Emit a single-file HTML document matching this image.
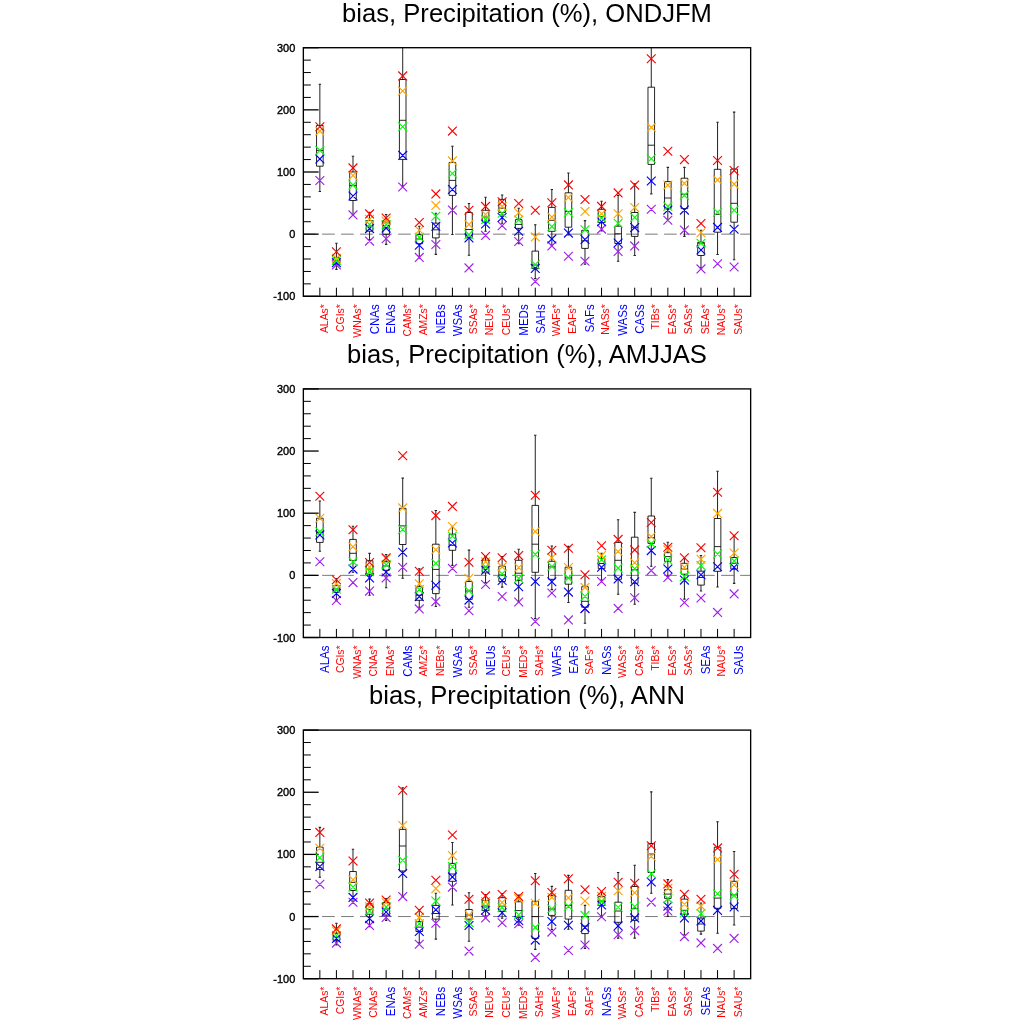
<!DOCTYPE html><html><head><meta charset="utf-8"><title>bias precipitation</title><style>html,body{margin:0;padding:0;background:#fff}svg{display:block}text{font-family:"Liberation Sans",sans-serif}</style></head><body>
<svg width="1024" height="1024" viewBox="0 0 1024 1024">
<defs><filter id="g" filterUnits="userSpaceOnUse" x="0" y="0" width="1024" height="1024"><feOffset dx="0" dy="0"/></filter></defs>
<rect width="1024" height="1024" fill="#fff"/>
<g filter="url(#g)">
<text x="527" y="22" font-size="25.6" text-anchor="middle" fill="#000">bias, Precipitation (%), ONDJFM</text>
<line x1="303.1" y1="234.15" x2="750.65" y2="234.15" stroke="#7a7a7a" stroke-width="1" stroke-dasharray="12.65 6.35"/>
<line x1="303.35" y1="47.7" x2="318.65" y2="47.7" stroke="#000" stroke-width="1.3"/>
<text transform="translate(295.3 51.7) scale(0.93 1)" font-size="11.8" text-anchor="end" fill="#000" stroke="#000" stroke-width="0.4">300</text>
<line x1="303.35" y1="60.13" x2="310.85" y2="60.13" stroke="#000" stroke-width="1"/>
<line x1="303.35" y1="72.56" x2="310.85" y2="72.56" stroke="#000" stroke-width="1"/>
<line x1="303.35" y1="84.99" x2="310.85" y2="84.99" stroke="#000" stroke-width="1"/>
<line x1="303.35" y1="97.42" x2="310.85" y2="97.42" stroke="#000" stroke-width="1"/>
<line x1="303.35" y1="109.85" x2="318.65" y2="109.85" stroke="#000" stroke-width="1.3"/>
<text transform="translate(295.3 113.85) scale(0.93 1)" font-size="11.8" text-anchor="end" fill="#000" stroke="#000" stroke-width="0.4">200</text>
<line x1="303.35" y1="122.28" x2="310.85" y2="122.28" stroke="#000" stroke-width="1"/>
<line x1="303.35" y1="134.71" x2="310.85" y2="134.71" stroke="#000" stroke-width="1"/>
<line x1="303.35" y1="147.14" x2="310.85" y2="147.14" stroke="#000" stroke-width="1"/>
<line x1="303.35" y1="159.57" x2="310.85" y2="159.57" stroke="#000" stroke-width="1"/>
<line x1="303.35" y1="172" x2="318.65" y2="172" stroke="#000" stroke-width="1.3"/>
<text transform="translate(295.3 176) scale(0.93 1)" font-size="11.8" text-anchor="end" fill="#000" stroke="#000" stroke-width="0.4">100</text>
<line x1="303.35" y1="184.43" x2="310.85" y2="184.43" stroke="#000" stroke-width="1"/>
<line x1="303.35" y1="196.86" x2="310.85" y2="196.86" stroke="#000" stroke-width="1"/>
<line x1="303.35" y1="209.29" x2="310.85" y2="209.29" stroke="#000" stroke-width="1"/>
<line x1="303.35" y1="221.72" x2="310.85" y2="221.72" stroke="#000" stroke-width="1"/>
<line x1="303.35" y1="234.15" x2="318.65" y2="234.15" stroke="#000" stroke-width="1.3"/>
<text transform="translate(295.3 238.15) scale(0.93 1)" font-size="11.8" text-anchor="end" fill="#000" stroke="#000" stroke-width="0.4">0</text>
<line x1="303.35" y1="246.58" x2="310.85" y2="246.58" stroke="#000" stroke-width="1"/>
<line x1="303.35" y1="259.01" x2="310.85" y2="259.01" stroke="#000" stroke-width="1"/>
<line x1="303.35" y1="271.44" x2="310.85" y2="271.44" stroke="#000" stroke-width="1"/>
<line x1="303.35" y1="283.87" x2="310.85" y2="283.87" stroke="#000" stroke-width="1"/>
<line x1="303.35" y1="296.3" x2="318.65" y2="296.3" stroke="#000" stroke-width="1.3"/>
<text transform="translate(295.3 300.3) scale(0.93 1)" font-size="11.8" text-anchor="end" fill="#000" stroke="#000" stroke-width="0.4">-100</text>
<line x1="319.85" y1="287.7" x2="319.85" y2="296.3" stroke="#000" stroke-width="1"/>
<path d="M319.85 84.2V125.5M319.85 166.2V191.5" stroke="#222" stroke-width="1" fill="none"/>
<path d="M318.65 84.2H321.05M318.65 191.5H321.05" stroke="#222" stroke-width="1.1" fill="none"/>
<path d="M316.55 125.5H323.15V166.2H316.55ZM316.55 150.4H323.15" stroke="#000" stroke-width="0.85" fill="none"/>
<line x1="336.42" y1="287.7" x2="336.42" y2="296.3" stroke="#000" stroke-width="1"/>
<path d="M336.42 243.3V257.6M336.42 264.6V269.4" stroke="#222" stroke-width="1" fill="none"/>
<path d="M335.22 243.3H337.62M335.22 269.4H337.62" stroke="#222" stroke-width="1.1" fill="none"/>
<path d="M333.12 257.6H339.72V264.6H333.12ZM333.12 260.5H339.72" stroke="#000" stroke-width="0.85" fill="none"/>
<line x1="352.99" y1="287.7" x2="352.99" y2="296.3" stroke="#000" stroke-width="1"/>
<path d="M352.99 156.3V172M352.99 200.5V214.5" stroke="#222" stroke-width="1" fill="none"/>
<path d="M351.79 156.3H354.19M351.79 214.5H354.19" stroke="#222" stroke-width="1.1" fill="none"/>
<path d="M349.69 172H356.29V200.5H349.69ZM349.69 185.4H356.29" stroke="#000" stroke-width="0.85" fill="none"/>
<line x1="369.56" y1="287.7" x2="369.56" y2="296.3" stroke="#000" stroke-width="1"/>
<path d="M369.56 212.3V220.6M369.56 231.2V239.5" stroke="#222" stroke-width="1" fill="none"/>
<path d="M368.36 212.3H370.76M368.36 239.5H370.76" stroke="#222" stroke-width="1.1" fill="none"/>
<path d="M366.26 220.6H372.86V231.2H366.26ZM366.26 226H372.86" stroke="#000" stroke-width="0.85" fill="none"/>
<line x1="386.13" y1="287.7" x2="386.13" y2="296.3" stroke="#000" stroke-width="1"/>
<path d="M386.13 214.5V222M386.13 234.3V244.4" stroke="#222" stroke-width="1" fill="none"/>
<path d="M384.93 214.5H387.33M384.93 244.4H387.33" stroke="#222" stroke-width="1.1" fill="none"/>
<path d="M382.83 222H389.43V234.3H382.83ZM382.83 228H389.43" stroke="#000" stroke-width="0.85" fill="none"/>
<line x1="402.71" y1="287.7" x2="402.71" y2="296.3" stroke="#000" stroke-width="1"/>
<path d="M402.71 47.7V79.5M402.71 159.4V185.9" stroke="#222" stroke-width="1" fill="none"/>
<path d="M401.51 185.9H403.91" stroke="#222" stroke-width="1.1" fill="none"/>
<path d="M399.41 79.5H406.01V159.4H399.41ZM399.41 120.3H406.01" stroke="#000" stroke-width="0.85" fill="none"/>
<line x1="419.28" y1="287.7" x2="419.28" y2="296.3" stroke="#000" stroke-width="1"/>
<path d="M419.28 226.2V234.7M419.28 243.7V256.2" stroke="#222" stroke-width="1" fill="none"/>
<path d="M418.08 226.2H420.48M418.08 256.2H420.48" stroke="#222" stroke-width="1.1" fill="none"/>
<path d="M415.98 234.7H422.58V243.7H415.98ZM415.98 239H422.58" stroke="#000" stroke-width="0.85" fill="none"/>
<line x1="435.85" y1="287.7" x2="435.85" y2="296.3" stroke="#000" stroke-width="1"/>
<path d="M435.85 213.3V223.2M435.85 237.9V254.4" stroke="#222" stroke-width="1" fill="none"/>
<path d="M434.65 213.3H437.05M434.65 254.4H437.05" stroke="#222" stroke-width="1.1" fill="none"/>
<path d="M432.55 223.2H439.15V237.9H432.55ZM432.55 229.8H439.15" stroke="#000" stroke-width="0.85" fill="none"/>
<line x1="452.42" y1="287.7" x2="452.42" y2="296.3" stroke="#000" stroke-width="1"/>
<path d="M452.42 146.2V162.4M452.42 195.4V234.5" stroke="#222" stroke-width="1" fill="none"/>
<path d="M451.22 146.2H453.62M451.22 234.5H453.62" stroke="#222" stroke-width="1.1" fill="none"/>
<path d="M449.12 162.4H455.72V195.4H449.12ZM449.12 180.4H455.72" stroke="#000" stroke-width="0.85" fill="none"/>
<line x1="468.99" y1="287.7" x2="468.99" y2="296.3" stroke="#000" stroke-width="1"/>
<path d="M468.99 203.5V212.5M468.99 237.9V255.2" stroke="#222" stroke-width="1" fill="none"/>
<path d="M467.79 203.5H470.19M467.79 255.2H470.19" stroke="#222" stroke-width="1.1" fill="none"/>
<path d="M465.69 212.5H472.29V237.9H465.69ZM465.69 229.5H472.29" stroke="#000" stroke-width="0.85" fill="none"/>
<line x1="485.56" y1="287.7" x2="485.56" y2="296.3" stroke="#000" stroke-width="1"/>
<path d="M485.56 197.3V210.3M485.56 221.8V231.3" stroke="#222" stroke-width="1" fill="none"/>
<path d="M484.36 197.3H486.76M484.36 231.3H486.76" stroke="#222" stroke-width="1.1" fill="none"/>
<path d="M482.26 210.3H488.86V221.8H482.26ZM482.26 217H488.86" stroke="#000" stroke-width="0.85" fill="none"/>
<line x1="502.13" y1="287.7" x2="502.13" y2="296.3" stroke="#000" stroke-width="1"/>
<path d="M502.13 195V199.4M502.13 212.5V223.2" stroke="#222" stroke-width="1" fill="none"/>
<path d="M500.93 195H503.33M500.93 223.2H503.33" stroke="#222" stroke-width="1.1" fill="none"/>
<path d="M498.83 199.4H505.43V212.5H498.83ZM498.83 208.2H505.43" stroke="#000" stroke-width="0.85" fill="none"/>
<line x1="518.7" y1="287.7" x2="518.7" y2="296.3" stroke="#000" stroke-width="1"/>
<path d="M518.7 208.3V219.6M518.7 228.4V243.7" stroke="#222" stroke-width="1" fill="none"/>
<path d="M517.5 208.3H519.9M517.5 243.7H519.9" stroke="#222" stroke-width="1.1" fill="none"/>
<path d="M515.4 219.6H522V228.4H515.4ZM515.4 224.4H522" stroke="#000" stroke-width="0.85" fill="none"/>
<line x1="535.27" y1="287.7" x2="535.27" y2="296.3" stroke="#000" stroke-width="1"/>
<path d="M535.27 224.7V251.1M535.27 268.6V278.6" stroke="#222" stroke-width="1" fill="none"/>
<path d="M534.07 224.7H536.47M534.07 278.6H536.47" stroke="#222" stroke-width="1.1" fill="none"/>
<path d="M531.97 251.1H538.57V268.6H531.97ZM531.97 265H538.57" stroke="#000" stroke-width="0.85" fill="none"/>
<line x1="551.84" y1="287.7" x2="551.84" y2="296.3" stroke="#000" stroke-width="1"/>
<path d="M551.84 189.5V207.4M551.84 231.3V245.2" stroke="#222" stroke-width="1" fill="none"/>
<path d="M550.64 189.5H553.04M550.64 245.2H553.04" stroke="#222" stroke-width="1.1" fill="none"/>
<path d="M548.54 207.4H555.14V231.3H548.54ZM548.54 220.3H555.14" stroke="#000" stroke-width="0.85" fill="none"/>
<line x1="568.42" y1="287.7" x2="568.42" y2="296.3" stroke="#000" stroke-width="1"/>
<path d="M568.42 173V192.8M568.42 227.2V235" stroke="#222" stroke-width="1" fill="none"/>
<path d="M567.22 173H569.62M567.22 235H569.62" stroke="#222" stroke-width="1.1" fill="none"/>
<path d="M565.12 192.8H571.72V227.2H565.12ZM565.12 211.5H571.72" stroke="#000" stroke-width="0.85" fill="none"/>
<line x1="584.99" y1="287.7" x2="584.99" y2="296.3" stroke="#000" stroke-width="1"/>
<path d="M584.99 220.6V230.3M584.99 248.4V264.3" stroke="#222" stroke-width="1" fill="none"/>
<path d="M583.79 220.6H586.19M583.79 264.3H586.19" stroke="#222" stroke-width="1.1" fill="none"/>
<path d="M581.69 230.3H588.29V248.4H581.69ZM581.69 240.8H588.29" stroke="#000" stroke-width="0.85" fill="none"/>
<line x1="601.56" y1="287.7" x2="601.56" y2="296.3" stroke="#000" stroke-width="1"/>
<path d="M601.56 201.3V209.3M601.56 222.5V231" stroke="#222" stroke-width="1" fill="none"/>
<path d="M600.36 201.3H602.76M600.36 231H602.76" stroke="#222" stroke-width="1.1" fill="none"/>
<path d="M598.26 209.3H604.86V222.5H598.26ZM598.26 216.6H604.86" stroke="#000" stroke-width="0.85" fill="none"/>
<line x1="618.13" y1="287.7" x2="618.13" y2="296.3" stroke="#000" stroke-width="1"/>
<path d="M618.13 195.4V226.2M618.13 243.5V261.3" stroke="#222" stroke-width="1" fill="none"/>
<path d="M616.93 195.4H619.33M616.93 261.3H619.33" stroke="#222" stroke-width="1.1" fill="none"/>
<path d="M614.83 226.2H621.43V243.5H614.83ZM614.83 233.8H621.43" stroke="#000" stroke-width="0.85" fill="none"/>
<line x1="634.7" y1="287.7" x2="634.7" y2="296.3" stroke="#000" stroke-width="1"/>
<path d="M634.7 183.7V212.5M634.7 236.4V255.5" stroke="#222" stroke-width="1" fill="none"/>
<path d="M633.5 183.7H635.9M633.5 255.5H635.9" stroke="#222" stroke-width="1.1" fill="none"/>
<path d="M631.4 212.5H638V236.4H631.4ZM631.4 227.3H638" stroke="#000" stroke-width="0.85" fill="none"/>
<line x1="651.27" y1="287.7" x2="651.27" y2="296.3" stroke="#000" stroke-width="1"/>
<path d="M651.27 47.7V87.2M651.27 164.4V193.9" stroke="#222" stroke-width="1" fill="none"/>
<path d="M650.07 193.9H652.47" stroke="#222" stroke-width="1.1" fill="none"/>
<path d="M647.97 87.2H654.57V164.4H647.97ZM647.97 145.2H654.57" stroke="#000" stroke-width="0.85" fill="none"/>
<line x1="667.84" y1="287.7" x2="667.84" y2="296.3" stroke="#000" stroke-width="1"/>
<path d="M667.84 167.4V181.6M667.84 208.6V220" stroke="#222" stroke-width="1" fill="none"/>
<path d="M666.64 167.4H669.04M666.64 220H669.04" stroke="#222" stroke-width="1.1" fill="none"/>
<path d="M664.54 181.6H671.14V208.6H664.54ZM664.54 198H671.14" stroke="#000" stroke-width="0.85" fill="none"/>
<line x1="684.41" y1="287.7" x2="684.41" y2="296.3" stroke="#000" stroke-width="1"/>
<path d="M684.41 167.4V178.2M684.41 208.6V236.4" stroke="#222" stroke-width="1" fill="none"/>
<path d="M683.21 167.4H685.61M683.21 236.4H685.61" stroke="#222" stroke-width="1.1" fill="none"/>
<path d="M681.11 178.2H687.71V208.6H681.11ZM681.11 194.2H687.71" stroke="#000" stroke-width="0.85" fill="none"/>
<line x1="700.98" y1="287.7" x2="700.98" y2="296.3" stroke="#000" stroke-width="1"/>
<path d="M700.98 230.3V242.3M700.98 255.5V267.9" stroke="#222" stroke-width="1" fill="none"/>
<path d="M699.78 230.3H702.18M699.78 267.9H702.18" stroke="#222" stroke-width="1.1" fill="none"/>
<path d="M697.68 242.3H704.28V255.5H697.68ZM697.68 243.1H704.28" stroke="#000" stroke-width="0.85" fill="none"/>
<line x1="717.55" y1="287.7" x2="717.55" y2="296.3" stroke="#000" stroke-width="1"/>
<path d="M717.55 122.3V169.3M717.55 232.2V254.5" stroke="#222" stroke-width="1" fill="none"/>
<path d="M716.35 122.3H718.75M716.35 254.5H718.75" stroke="#222" stroke-width="1.1" fill="none"/>
<path d="M714.25 169.3H720.85V232.2H714.25ZM714.25 214.4H720.85" stroke="#000" stroke-width="0.85" fill="none"/>
<line x1="734.12" y1="287.7" x2="734.12" y2="296.3" stroke="#000" stroke-width="1"/>
<path d="M734.12 112.1V169.1M734.12 222.2V259.8" stroke="#222" stroke-width="1" fill="none"/>
<path d="M732.92 112.1H735.33M732.92 259.8H735.33" stroke="#222" stroke-width="1.1" fill="none"/>
<path d="M730.83 169.1H737.42V222.2H730.83ZM730.83 203.3H737.42" stroke="#000" stroke-width="0.85" fill="none"/>
<path d="M315.45 176.1L324.25 184.9M315.45 184.9L324.25 176.1M332.02 260.5L340.82 269.3M332.02 269.3L340.82 260.5M348.59 210.5L357.39 219.3M348.59 219.3L357.39 210.5M365.16 236.7L373.96 245.5M365.16 245.5L373.96 236.7M381.73 234.4L390.53 243.2M381.73 243.2L390.53 234.4M398.31 182.6L407.11 191.4M398.31 191.4L407.11 182.6M414.88 253L423.68 261.8M414.88 261.8L423.68 253M431.45 240.1L440.25 248.9M431.45 248.9L440.25 240.1M448.02 205.7L456.82 214.5M448.02 214.5L456.82 205.7M464.59 263.5L473.39 272.3M464.59 272.3L473.39 263.5M481.16 231L489.96 239.8M481.16 239.8L489.96 231M497.73 221.3L506.53 230.1M497.73 230.1L506.53 221.3M514.3 237.1L523.1 245.9M514.3 245.9L523.1 237.1M530.87 277.1L539.67 285.9M530.87 285.9L539.67 277.1M547.44 241.5L556.24 250.3M547.44 250.3L556.24 241.5M564.02 251.8L572.82 260.6M564.02 260.6L572.82 251.8M580.59 256.9L589.39 265.7M580.59 265.7L589.39 256.9M597.16 224.7L605.96 233.5M597.16 233.5L605.96 224.7M613.73 247.1L622.53 255.9M613.73 255.9L622.53 247.1M630.3 241.5L639.1 250.3M630.3 250.3L639.1 241.5M646.87 204.9L655.67 213.7M646.87 213.7L655.67 204.9M663.44 215.9L672.24 224.7M663.44 224.7L672.24 215.9M680.01 225.7L688.81 234.5M680.01 234.5L688.81 225.7M696.58 264.5L705.38 273.3M696.58 273.3L705.38 264.5M713.15 259.4L721.95 268.2M713.15 268.2L721.95 259.4M729.73 262.6L738.52 271.4M729.73 271.4L738.52 262.6" stroke="#a020f0" stroke-width="1.15" fill="none"/>
<path d="M315.45 154.5L324.25 163.3M315.45 163.3L324.25 154.5M332.02 258.4L340.82 267.2M332.02 267.2L340.82 258.4M348.59 191.6L357.39 200.4M348.59 200.4L357.39 191.6M365.16 224.2L373.96 233M365.16 233L373.96 224.2M381.73 223.7L390.53 232.5M381.73 232.5L390.53 223.7M398.31 151L407.11 159.8M398.31 159.8L407.11 151M414.88 240.8L423.68 249.6M414.88 249.6L423.68 240.8M431.45 221.8L440.25 230.6M431.45 230.6L440.25 221.8M448.02 185.1L456.82 193.9M448.02 193.9L456.82 185.1M464.59 233.5L473.39 242.3M464.59 242.3L473.39 233.5M481.16 219.6L489.96 228.4M481.16 228.4L489.96 219.6M497.73 213.1L506.53 221.9M497.73 221.9L506.53 213.1M514.3 226.9L523.1 235.7M514.3 235.7L523.1 226.9M530.87 264L539.67 272.8M530.87 272.8L539.67 264M547.44 234.5L556.24 243.3M547.44 243.3L556.24 234.5M564.02 228.7L572.82 237.5M564.02 237.5L572.82 228.7M580.59 235.1L589.39 243.9M580.59 243.9L589.39 235.1M597.16 217.4L605.96 226.2M597.16 226.2L605.96 217.4M613.73 238.6L622.53 247.4M613.73 247.4L622.53 238.6M630.3 223.2L639.1 232M630.3 232L639.1 223.2M646.87 176.6L655.67 185.4M646.87 185.4L655.67 176.6M663.44 205.7L672.24 214.5M663.44 214.5L672.24 205.7M680.01 205.7L688.81 214.5M680.01 214.5L688.81 205.7M696.58 245.6L705.38 254.4M696.58 254.4L705.38 245.6M713.15 223L721.95 231.8M713.15 231.8L721.95 223M729.73 224.8L738.52 233.6M729.73 233.6L738.52 224.8" stroke="#0000ff" stroke-width="1.15" fill="none"/>
<path d="M315.45 146L324.25 154.8M315.45 154.8L324.25 146M332.02 256.2L340.82 265M332.02 265L340.82 256.2M348.59 180.7L357.39 189.5M348.59 189.5L357.39 180.7M365.16 220.2L373.96 229M365.16 229L373.96 220.2M381.73 220.2L390.53 229M381.73 229L390.53 220.2M398.31 122.3L407.11 131.1M398.31 131.1L407.11 122.3M414.88 232.8L423.68 241.6M414.88 241.6L423.68 232.8M431.45 211.8L440.25 220.6M431.45 220.6L440.25 211.8M448.02 169.1L456.82 177.9M448.02 177.9L456.82 169.1M464.59 230.1L473.39 238.9M464.59 238.9L473.39 230.1M481.16 215.2L489.96 224M481.16 224L489.96 215.2M497.73 208.8L506.53 217.6M497.73 217.6L506.53 208.8M514.3 215.6L523.1 224.4M514.3 224.4L523.1 215.6M530.87 260.1L539.67 268.9M530.87 268.9L539.67 260.1M547.44 222.2L556.24 231M547.44 231L556.24 222.2M564.02 208.1L572.82 216.9M564.02 216.9L572.82 208.1M580.59 225.4L589.39 234.2M580.59 234.2L589.39 225.4M597.16 213.7L605.96 222.5M597.16 222.5L605.96 213.7M613.73 218.8L622.53 227.6M613.73 227.6L622.53 218.8M630.3 213L639.1 221.8M630.3 221.8L639.1 213M646.87 154.3L655.67 163.1M646.87 163.1L655.67 154.3M663.44 202L672.24 210.8M663.44 210.8L672.24 202M680.01 191L688.81 199.8M680.01 199.8L688.81 191M696.58 238.9L705.38 247.7M696.58 247.7L705.38 238.9M713.15 207.9L721.95 216.7M713.15 216.7L721.95 207.9M729.73 205.9L738.52 214.7M729.73 214.7L738.52 205.9" stroke="#00ff00" stroke-width="1.15" fill="none"/>
<path d="M315.45 126.7L324.25 135.5M315.45 135.5L324.25 126.7M332.02 253.8L340.82 262.6M332.02 262.6L340.82 253.8M348.59 171.1L357.39 179.9M348.59 179.9L357.39 171.1M365.16 214.9L373.96 223.7M365.16 223.7L373.96 214.9M381.73 216.7L390.53 225.5M381.73 225.5L390.53 216.7M398.31 86.6L407.11 95.4M398.31 95.4L407.11 86.6M414.88 225.9L423.68 234.7M414.88 234.7L423.68 225.9M431.45 201L440.25 209.8M431.45 209.8L440.25 201M448.02 156.5L456.82 165.3M448.02 165.3L456.82 156.5M464.59 220L473.39 228.8M464.59 228.8L473.39 220M481.16 210.1L489.96 218.9M481.16 218.9L489.96 210.1M497.73 202L506.53 210.8M497.73 210.8L506.53 202M514.3 208.3L523.1 217.1M514.3 217.1L523.1 208.3M530.87 232.5L539.67 241.3M530.87 241.3L539.67 232.5M547.44 212.7L556.24 221.5M547.44 221.5L556.24 212.7M564.02 193.2L572.82 202M564.02 202L572.82 193.2M580.59 207L589.39 215.8M580.59 215.8L589.39 207M597.16 209.3L605.96 218.1M597.16 218.1L605.96 209.3M613.73 209.3L622.53 218.1M613.73 218.1L622.53 209.3M630.3 203.2L639.1 212M630.3 212L639.1 203.2M646.87 123L655.67 131.8M646.87 131.8L655.67 123M663.44 180.7L672.24 189.5M663.44 189.5L672.24 180.7M680.01 179L688.81 187.8M680.01 187.8L688.81 179M696.58 228.4L705.38 237.2M696.58 237.2L705.38 228.4M713.15 175.5L721.95 184.3M713.15 184.3L721.95 175.5M729.73 179.7L738.52 188.5M729.73 188.5L738.52 179.7" stroke="#ffa500" stroke-width="1.15" fill="none"/>
<path d="M315.45 122.3L324.25 131.1M315.45 131.1L324.25 122.3M332.02 247.3L340.82 256.1M332.02 256.1L340.82 247.3M348.59 163.5L357.39 172.3M348.59 172.3L357.39 163.5M365.16 209.5L373.96 218.3M365.16 218.3L373.96 209.5M381.73 213.6L390.53 222.4M381.73 222.4L390.53 213.6M398.31 71.5L407.11 80.3M398.31 80.3L407.11 71.5M414.88 218.1L423.68 226.9M414.88 226.9L423.68 218.1M431.45 189.5L440.25 198.3M431.45 198.3L440.25 189.5M448.02 126.7L456.82 135.5M448.02 135.5L456.82 126.7M464.59 205.9L473.39 214.7M464.59 214.7L473.39 205.9M481.16 202L489.96 210.8M481.16 210.8L489.96 202M497.73 197.3L506.53 206.1M497.73 206.1L506.53 197.3M514.3 199.1L523.1 207.9M514.3 207.9L523.1 199.1M530.87 205.9L539.67 214.7M530.87 214.7L539.67 205.9M547.44 198.3L556.24 207.1M547.44 207.1L556.24 198.3M564.02 180.5L572.82 189.3M564.02 189.3L572.82 180.5M580.59 195.1L589.39 203.9M580.59 203.9L589.39 195.1M597.16 202L605.96 210.8M597.16 210.8L605.96 202M613.73 188.5L622.53 197.3M613.73 197.3L622.53 188.5M630.3 180.7L639.1 189.5M630.3 189.5L639.1 180.7M646.87 54.3L655.67 63.1M646.87 63.1L655.67 54.3M663.44 146.8L672.24 155.6M663.44 155.6L672.24 146.8M680.01 155.2L688.81 164M680.01 164L688.81 155.2M696.58 219.1L705.38 227.9M696.58 227.9L705.38 219.1M713.15 156.1L721.95 164.9M713.15 164.9L721.95 156.1M729.73 166.2L738.52 175M729.73 175L738.52 166.2" stroke="#ff0000" stroke-width="1.15" fill="none"/>
<rect x="303.35" y="47.7" width="447.3" height="248.6" fill="none" stroke="#000" stroke-width="1.35"/>
<text transform="translate(327.75 304.2) rotate(-90) scale(0.92 1)" font-size="11.3" text-anchor="end" fill="#ff0000">ALAs*</text>
<text transform="translate(344.32 304.2) rotate(-90) scale(0.92 1)" font-size="11.3" text-anchor="end" fill="#ff0000">CGIs*</text>
<text transform="translate(360.89 304.2) rotate(-90) scale(0.92 1)" font-size="11.3" text-anchor="end" fill="#ff0000">WNAs*</text>
<text transform="translate(378.86 304.35) rotate(-90) scale(0.92 1)" font-size="12.5" text-anchor="end" fill="#0000ff">CNAs</text>
<text transform="translate(395.43 304.35) rotate(-90) scale(0.92 1)" font-size="12.5" text-anchor="end" fill="#0000ff">ENAs</text>
<text transform="translate(410.61 304.2) rotate(-90) scale(0.92 1)" font-size="11.3" text-anchor="end" fill="#ff0000">CAMs*</text>
<text transform="translate(427.18 304.2) rotate(-90) scale(0.92 1)" font-size="11.3" text-anchor="end" fill="#ff0000">AMZs*</text>
<text transform="translate(445.15 304.35) rotate(-90) scale(0.92 1)" font-size="12.5" text-anchor="end" fill="#0000ff">NEBs</text>
<text transform="translate(461.72 304.35) rotate(-90) scale(0.92 1)" font-size="12.5" text-anchor="end" fill="#0000ff">WSAs</text>
<text transform="translate(476.89 304.2) rotate(-90) scale(0.92 1)" font-size="11.3" text-anchor="end" fill="#ff0000">SSAs*</text>
<text transform="translate(493.46 304.2) rotate(-90) scale(0.92 1)" font-size="11.3" text-anchor="end" fill="#ff0000">NEUs*</text>
<text transform="translate(510.03 304.2) rotate(-90) scale(0.92 1)" font-size="11.3" text-anchor="end" fill="#ff0000">CEUs*</text>
<text transform="translate(528 304.35) rotate(-90) scale(0.92 1)" font-size="12.5" text-anchor="end" fill="#0000ff">MEDs</text>
<text transform="translate(544.57 304.35) rotate(-90) scale(0.92 1)" font-size="12.5" text-anchor="end" fill="#0000ff">SAHs</text>
<text transform="translate(559.74 304.2) rotate(-90) scale(0.92 1)" font-size="11.3" text-anchor="end" fill="#ff0000">WAFs*</text>
<text transform="translate(576.32 304.2) rotate(-90) scale(0.92 1)" font-size="11.3" text-anchor="end" fill="#ff0000">EAFs*</text>
<text transform="translate(594.29 304.35) rotate(-90) scale(0.92 1)" font-size="12.5" text-anchor="end" fill="#0000ff">SAFs</text>
<text transform="translate(609.46 304.2) rotate(-90) scale(0.92 1)" font-size="11.3" text-anchor="end" fill="#ff0000">NASs*</text>
<text transform="translate(627.43 304.35) rotate(-90) scale(0.92 1)" font-size="12.5" text-anchor="end" fill="#0000ff">WASs</text>
<text transform="translate(644 304.35) rotate(-90) scale(0.92 1)" font-size="12.5" text-anchor="end" fill="#0000ff">CASs</text>
<text transform="translate(659.17 304.2) rotate(-90) scale(0.92 1)" font-size="11.3" text-anchor="end" fill="#ff0000">TIBs*</text>
<text transform="translate(675.74 304.2) rotate(-90) scale(0.92 1)" font-size="11.3" text-anchor="end" fill="#ff0000">EASs*</text>
<text transform="translate(692.31 304.2) rotate(-90) scale(0.92 1)" font-size="11.3" text-anchor="end" fill="#ff0000">SASs*</text>
<text transform="translate(708.88 304.2) rotate(-90) scale(0.92 1)" font-size="11.3" text-anchor="end" fill="#ff0000">SEAs*</text>
<text transform="translate(725.45 304.2) rotate(-90) scale(0.92 1)" font-size="11.3" text-anchor="end" fill="#ff0000">NAUs*</text>
<text transform="translate(742.02 304.2) rotate(-90) scale(0.92 1)" font-size="11.3" text-anchor="end" fill="#ff0000">SAUs*</text>
</g>
<g filter="url(#g)">
<text x="527" y="363.2" font-size="25.6" text-anchor="middle" fill="#000">bias, Precipitation (%), AMJJAS</text>
<line x1="303.1" y1="575.35" x2="750.65" y2="575.35" stroke="#7a7a7a" stroke-width="1" stroke-dasharray="12.65 6.35"/>
<line x1="303.35" y1="388.9" x2="318.65" y2="388.9" stroke="#000" stroke-width="1.3"/>
<text transform="translate(295.3 392.9) scale(0.93 1)" font-size="11.8" text-anchor="end" fill="#000" stroke="#000" stroke-width="0.4">300</text>
<line x1="303.35" y1="401.33" x2="310.85" y2="401.33" stroke="#000" stroke-width="1"/>
<line x1="303.35" y1="413.76" x2="310.85" y2="413.76" stroke="#000" stroke-width="1"/>
<line x1="303.35" y1="426.19" x2="310.85" y2="426.19" stroke="#000" stroke-width="1"/>
<line x1="303.35" y1="438.62" x2="310.85" y2="438.62" stroke="#000" stroke-width="1"/>
<line x1="303.35" y1="451.05" x2="318.65" y2="451.05" stroke="#000" stroke-width="1.3"/>
<text transform="translate(295.3 455.05) scale(0.93 1)" font-size="11.8" text-anchor="end" fill="#000" stroke="#000" stroke-width="0.4">200</text>
<line x1="303.35" y1="463.48" x2="310.85" y2="463.48" stroke="#000" stroke-width="1"/>
<line x1="303.35" y1="475.91" x2="310.85" y2="475.91" stroke="#000" stroke-width="1"/>
<line x1="303.35" y1="488.34" x2="310.85" y2="488.34" stroke="#000" stroke-width="1"/>
<line x1="303.35" y1="500.77" x2="310.85" y2="500.77" stroke="#000" stroke-width="1"/>
<line x1="303.35" y1="513.2" x2="318.65" y2="513.2" stroke="#000" stroke-width="1.3"/>
<text transform="translate(295.3 517.2) scale(0.93 1)" font-size="11.8" text-anchor="end" fill="#000" stroke="#000" stroke-width="0.4">100</text>
<line x1="303.35" y1="525.63" x2="310.85" y2="525.63" stroke="#000" stroke-width="1"/>
<line x1="303.35" y1="538.06" x2="310.85" y2="538.06" stroke="#000" stroke-width="1"/>
<line x1="303.35" y1="550.49" x2="310.85" y2="550.49" stroke="#000" stroke-width="1"/>
<line x1="303.35" y1="562.92" x2="310.85" y2="562.92" stroke="#000" stroke-width="1"/>
<line x1="303.35" y1="575.35" x2="318.65" y2="575.35" stroke="#000" stroke-width="1.3"/>
<text transform="translate(295.3 579.35) scale(0.93 1)" font-size="11.8" text-anchor="end" fill="#000" stroke="#000" stroke-width="0.4">0</text>
<line x1="303.35" y1="587.78" x2="310.85" y2="587.78" stroke="#000" stroke-width="1"/>
<line x1="303.35" y1="600.21" x2="310.85" y2="600.21" stroke="#000" stroke-width="1"/>
<line x1="303.35" y1="612.64" x2="310.85" y2="612.64" stroke="#000" stroke-width="1"/>
<line x1="303.35" y1="625.07" x2="310.85" y2="625.07" stroke="#000" stroke-width="1"/>
<line x1="303.35" y1="637.5" x2="318.65" y2="637.5" stroke="#000" stroke-width="1.3"/>
<text transform="translate(295.3 641.5) scale(0.93 1)" font-size="11.8" text-anchor="end" fill="#000" stroke="#000" stroke-width="0.4">-100</text>
<line x1="319.85" y1="628.9" x2="319.85" y2="637.5" stroke="#000" stroke-width="1"/>
<path d="M319.85 501V518.2M319.85 542.4V551.2" stroke="#222" stroke-width="1" fill="none"/>
<path d="M318.65 501H321.05M318.65 551.2H321.05" stroke="#222" stroke-width="1.1" fill="none"/>
<path d="M316.55 518.2H323.15V542.4H316.55ZM316.55 532.2H323.15" stroke="#000" stroke-width="0.85" fill="none"/>
<line x1="336.42" y1="628.9" x2="336.42" y2="637.5" stroke="#000" stroke-width="1"/>
<path d="M336.42 578.5V585.7M336.42 592.3V600.2" stroke="#222" stroke-width="1" fill="none"/>
<path d="M335.22 578.5H337.62M335.22 600.2H337.62" stroke="#222" stroke-width="1.1" fill="none"/>
<path d="M333.12 585.7H339.72V592.3H333.12ZM333.12 589H339.72" stroke="#000" stroke-width="0.85" fill="none"/>
<line x1="352.99" y1="628.9" x2="352.99" y2="637.5" stroke="#000" stroke-width="1"/>
<path d="M352.99 526.3V539.4M352.99 560.6V572.3" stroke="#222" stroke-width="1" fill="none"/>
<path d="M351.79 526.3H354.19M351.79 572.3H354.19" stroke="#222" stroke-width="1.1" fill="none"/>
<path d="M349.69 539.4H356.29V560.6H349.69ZM349.69 553.3H356.29" stroke="#000" stroke-width="0.85" fill="none"/>
<line x1="369.56" y1="628.9" x2="369.56" y2="637.5" stroke="#000" stroke-width="1"/>
<path d="M369.56 553.4V560.6M369.56 574.2V595.2" stroke="#222" stroke-width="1" fill="none"/>
<path d="M368.36 553.4H370.76M368.36 595.2H370.76" stroke="#222" stroke-width="1.1" fill="none"/>
<path d="M366.26 560.6H372.86V574.2H366.26ZM366.26 569H372.86" stroke="#000" stroke-width="0.85" fill="none"/>
<line x1="386.13" y1="628.9" x2="386.13" y2="637.5" stroke="#000" stroke-width="1"/>
<path d="M386.13 554.5V561.8M386.13 570.3V587.8" stroke="#222" stroke-width="1" fill="none"/>
<path d="M384.93 554.5H387.33M384.93 587.8H387.33" stroke="#222" stroke-width="1.1" fill="none"/>
<path d="M382.83 561.8H389.43V570.3H382.83ZM382.83 566H389.43" stroke="#000" stroke-width="0.85" fill="none"/>
<line x1="402.71" y1="628.9" x2="402.71" y2="637.5" stroke="#000" stroke-width="1"/>
<path d="M402.71 478.1V508.3M402.71 544.5V578.3" stroke="#222" stroke-width="1" fill="none"/>
<path d="M401.51 478.1H403.91M401.51 578.3H403.91" stroke="#222" stroke-width="1.1" fill="none"/>
<path d="M399.41 508.3H406.01V544.5H399.41ZM399.41 525.9H406.01" stroke="#000" stroke-width="0.85" fill="none"/>
<line x1="419.28" y1="628.9" x2="419.28" y2="637.5" stroke="#000" stroke-width="1"/>
<path d="M419.28 568.7V586.7M419.28 600.3V607.2" stroke="#222" stroke-width="1" fill="none"/>
<path d="M418.08 568.7H420.48M418.08 607.2H420.48" stroke="#222" stroke-width="1.1" fill="none"/>
<path d="M415.98 586.7H422.58V600.3H415.98ZM415.98 595.2H422.58" stroke="#000" stroke-width="0.85" fill="none"/>
<line x1="435.85" y1="628.9" x2="435.85" y2="637.5" stroke="#000" stroke-width="1"/>
<path d="M435.85 510.5V544.2M435.85 593.6V606.5" stroke="#222" stroke-width="1" fill="none"/>
<path d="M434.65 510.5H437.05M434.65 606.5H437.05" stroke="#222" stroke-width="1.1" fill="none"/>
<path d="M432.55 544.2H439.15V593.6H432.55ZM432.55 569.4H439.15" stroke="#000" stroke-width="0.85" fill="none"/>
<line x1="452.42" y1="628.9" x2="452.42" y2="637.5" stroke="#000" stroke-width="1"/>
<path d="M452.42 527.4V534.2M452.42 550.3V565.4" stroke="#222" stroke-width="1" fill="none"/>
<path d="M451.22 527.4H453.62M451.22 565.4H453.62" stroke="#222" stroke-width="1.1" fill="none"/>
<path d="M449.12 534.2H455.72V550.3H449.12ZM449.12 545.3H455.72" stroke="#000" stroke-width="0.85" fill="none"/>
<line x1="468.99" y1="628.9" x2="468.99" y2="637.5" stroke="#000" stroke-width="1"/>
<path d="M468.99 550.1V581.5M468.99 599.4V607.2" stroke="#222" stroke-width="1" fill="none"/>
<path d="M467.79 550.1H470.19M467.79 607.2H470.19" stroke="#222" stroke-width="1.1" fill="none"/>
<path d="M465.69 581.5H472.29V599.4H465.69ZM465.69 591H472.29" stroke="#000" stroke-width="0.85" fill="none"/>
<line x1="485.56" y1="628.9" x2="485.56" y2="637.5" stroke="#000" stroke-width="1"/>
<path d="M485.56 556.6V560.3M485.56 572.8V582.6" stroke="#222" stroke-width="1" fill="none"/>
<path d="M484.36 556.6H486.76M484.36 582.6H486.76" stroke="#222" stroke-width="1.1" fill="none"/>
<path d="M482.26 560.3H488.86V572.8H482.26ZM482.26 567H488.86" stroke="#000" stroke-width="0.85" fill="none"/>
<line x1="502.13" y1="628.9" x2="502.13" y2="637.5" stroke="#000" stroke-width="1"/>
<path d="M502.13 556.6V566.2M502.13 581.5V587.1" stroke="#222" stroke-width="1" fill="none"/>
<path d="M500.93 556.6H503.33M500.93 587.1H503.33" stroke="#222" stroke-width="1.1" fill="none"/>
<path d="M498.83 566.2H505.43V581.5H498.83ZM498.83 575H505.43" stroke="#000" stroke-width="0.85" fill="none"/>
<line x1="518.7" y1="628.9" x2="518.7" y2="637.5" stroke="#000" stroke-width="1"/>
<path d="M518.7 549.3V560.3M518.7 580.5V602" stroke="#222" stroke-width="1" fill="none"/>
<path d="M517.5 549.3H519.9M517.5 602H519.9" stroke="#222" stroke-width="1.1" fill="none"/>
<path d="M515.4 560.3H522V580.5H515.4ZM515.4 573.2H522" stroke="#000" stroke-width="0.85" fill="none"/>
<line x1="535.27" y1="628.9" x2="535.27" y2="637.5" stroke="#000" stroke-width="1"/>
<path d="M535.27 435.2V505.4M535.27 572.3V618.6" stroke="#222" stroke-width="1" fill="none"/>
<path d="M534.07 435.2H536.47M534.07 618.6H536.47" stroke="#222" stroke-width="1.1" fill="none"/>
<path d="M531.97 505.4H538.57V572.3H531.97ZM531.97 544.2H538.57" stroke="#000" stroke-width="0.85" fill="none"/>
<line x1="551.84" y1="628.9" x2="551.84" y2="637.5" stroke="#000" stroke-width="1"/>
<path d="M551.84 546V561.3M551.84 579.3V589.6" stroke="#222" stroke-width="1" fill="none"/>
<path d="M550.64 546H553.04M550.64 589.6H553.04" stroke="#222" stroke-width="1.1" fill="none"/>
<path d="M548.54 561.3H555.14V579.3H548.54ZM548.54 566.9H555.14" stroke="#000" stroke-width="0.85" fill="none"/>
<line x1="568.42" y1="628.9" x2="568.42" y2="637.5" stroke="#000" stroke-width="1"/>
<path d="M568.42 546.4V567.2M568.42 584.2V602.5" stroke="#222" stroke-width="1" fill="none"/>
<path d="M567.22 546.4H569.62M567.22 602.5H569.62" stroke="#222" stroke-width="1.1" fill="none"/>
<path d="M565.12 567.2H571.72V584.2H565.12ZM565.12 577.9H571.72" stroke="#000" stroke-width="0.85" fill="none"/>
<line x1="584.99" y1="628.9" x2="584.99" y2="637.5" stroke="#000" stroke-width="1"/>
<path d="M584.99 574.2V586.7M584.99 607.2V623.3" stroke="#222" stroke-width="1" fill="none"/>
<path d="M583.79 574.2H586.19M583.79 623.3H586.19" stroke="#222" stroke-width="1.1" fill="none"/>
<path d="M581.69 586.7H588.29V607.2H581.69ZM581.69 601.3H588.29" stroke="#000" stroke-width="0.85" fill="none"/>
<line x1="601.56" y1="628.9" x2="601.56" y2="637.5" stroke="#000" stroke-width="1"/>
<path d="M601.56 553.3V558.4M601.56 568.7V580.1" stroke="#222" stroke-width="1" fill="none"/>
<path d="M600.36 553.3H602.76M600.36 580.1H602.76" stroke="#222" stroke-width="1.1" fill="none"/>
<path d="M598.26 558.4H604.86V568.7H598.26ZM598.26 563.5H604.86" stroke="#000" stroke-width="0.85" fill="none"/>
<line x1="618.13" y1="628.9" x2="618.13" y2="637.5" stroke="#000" stroke-width="1"/>
<path d="M618.13 519.7V542.4M618.13 579.4V594.3" stroke="#222" stroke-width="1" fill="none"/>
<path d="M616.93 519.7H619.33M616.93 594.3H619.33" stroke="#222" stroke-width="1.1" fill="none"/>
<path d="M614.83 542.4H621.43V579.4H614.83ZM614.83 560.3H621.43" stroke="#000" stroke-width="0.85" fill="none"/>
<line x1="634.7" y1="628.9" x2="634.7" y2="637.5" stroke="#000" stroke-width="1"/>
<path d="M634.7 512.4V537.2M634.7 583.3V604.3" stroke="#222" stroke-width="1" fill="none"/>
<path d="M633.5 512.4H635.9M633.5 604.3H635.9" stroke="#222" stroke-width="1.1" fill="none"/>
<path d="M631.4 537.2H638V583.3H631.4ZM631.4 569.8H638" stroke="#000" stroke-width="0.85" fill="none"/>
<line x1="651.27" y1="628.9" x2="651.27" y2="637.5" stroke="#000" stroke-width="1"/>
<path d="M651.27 478.3V516M651.27 543.4V566.3" stroke="#222" stroke-width="1" fill="none"/>
<path d="M650.07 478.3H652.47M650.07 566.3H652.47" stroke="#222" stroke-width="1.1" fill="none"/>
<path d="M647.97 516H654.57V543.4H647.97ZM647.97 537.6H654.57" stroke="#000" stroke-width="0.85" fill="none"/>
<line x1="667.84" y1="628.9" x2="667.84" y2="637.5" stroke="#000" stroke-width="1"/>
<path d="M667.84 542.3V552.7M667.84 561.4V576.4" stroke="#222" stroke-width="1" fill="none"/>
<path d="M666.64 542.3H669.04M666.64 576.4H669.04" stroke="#222" stroke-width="1.1" fill="none"/>
<path d="M664.54 552.7H671.14V561.4H664.54ZM664.54 556.6H671.14" stroke="#000" stroke-width="0.85" fill="none"/>
<line x1="684.41" y1="628.9" x2="684.41" y2="637.5" stroke="#000" stroke-width="1"/>
<path d="M684.41 558.5V563.3M684.41 574.2V599.1" stroke="#222" stroke-width="1" fill="none"/>
<path d="M683.21 558.5H685.61M683.21 599.1H685.61" stroke="#222" stroke-width="1.1" fill="none"/>
<path d="M681.11 563.3H687.71V574.2H681.11ZM681.11 569H687.71" stroke="#000" stroke-width="0.85" fill="none"/>
<line x1="700.98" y1="628.9" x2="700.98" y2="637.5" stroke="#000" stroke-width="1"/>
<path d="M700.98 555.5V571.2M700.98 585.1V591" stroke="#222" stroke-width="1" fill="none"/>
<path d="M699.78 555.5H702.18M699.78 591H702.18" stroke="#222" stroke-width="1.1" fill="none"/>
<path d="M697.68 571.2H704.28V585.1H697.68ZM697.68 577.5H704.28" stroke="#000" stroke-width="0.85" fill="none"/>
<line x1="717.55" y1="628.9" x2="717.55" y2="637.5" stroke="#000" stroke-width="1"/>
<path d="M717.55 471.3V518.5M717.55 571.3V587" stroke="#222" stroke-width="1" fill="none"/>
<path d="M716.35 471.3H718.75M716.35 587H718.75" stroke="#222" stroke-width="1.1" fill="none"/>
<path d="M714.25 518.5H720.85V571.3H714.25ZM714.25 546.6H720.85" stroke="#000" stroke-width="0.85" fill="none"/>
<line x1="734.12" y1="628.9" x2="734.12" y2="637.5" stroke="#000" stroke-width="1"/>
<path d="M734.12 535.9V557.5M734.12 569.2V583.4" stroke="#222" stroke-width="1" fill="none"/>
<path d="M732.92 535.9H735.33M732.92 583.4H735.33" stroke="#222" stroke-width="1.1" fill="none"/>
<path d="M730.83 557.5H737.42V569.2H730.83ZM730.83 563.3H737.42" stroke="#000" stroke-width="0.85" fill="none"/>
<path d="M315.45 557.4L324.25 566.2M315.45 566.2L324.25 557.4M332.02 596.1L340.82 604.9M332.02 604.9L340.82 596.1M348.59 578.2L357.39 587M348.59 587L357.39 578.2M365.16 586.7L373.96 595.5M365.16 595.5L373.96 586.7M381.73 573.5L390.53 582.3M381.73 582.3L390.53 573.5M398.31 562.8L407.11 571.6M398.31 571.6L407.11 562.8M414.88 604.5L423.68 613.3M414.88 613.3L423.68 604.5M431.45 597.2L440.25 606M431.45 606L440.25 597.2M448.02 564L456.82 572.8M448.02 572.8L456.82 564M464.59 606.4L473.39 615.2M464.59 615.2L473.39 606.4M481.16 580.1L489.96 588.9M481.16 588.9L489.96 580.1M497.73 592.1L506.53 600.9M497.73 600.9L506.53 592.1M514.3 597.6L523.1 606.4M514.3 606.4L523.1 597.6M530.87 617.1L539.67 625.9M530.87 625.9L539.67 617.1M547.44 588.6L556.24 597.4M547.44 597.4L556.24 588.6M564.02 615.5L572.82 624.3M564.02 624.3L572.82 615.5M580.59 604.4L589.39 613.2M580.59 613.2L589.39 604.4M597.16 577.1L605.96 585.9M597.16 585.9L605.96 577.1M613.73 604L622.53 612.8M613.73 612.8L622.53 604M630.3 593.3L639.1 602.1M630.3 602.1L639.1 593.3M646.87 566.2L655.67 575M646.87 575L655.67 566.2M663.44 573L672.24 581.8M663.44 581.8L672.24 573M680.01 598.1L688.81 606.9M680.01 606.9L688.81 598.1M696.58 593.6L705.38 602.4M696.58 602.4L705.38 593.6M713.15 608L721.95 616.8M713.15 616.8L721.95 608M729.73 589.5L738.52 598.3M729.73 598.3L738.52 589.5" stroke="#a020f0" stroke-width="1.15" fill="none"/>
<path d="M315.45 530.5L324.25 539.3M315.45 539.3L324.25 530.5M332.02 589L340.82 597.8M332.02 597.8L340.82 589M348.59 564.7L357.39 573.5M348.59 573.5L357.39 564.7M365.16 573.5L373.96 582.3M365.16 582.3L373.96 573.5M381.73 567.6L390.53 576.4M381.73 576.4L390.53 567.6M398.31 547.9L407.11 556.7M398.31 556.7L407.11 547.9M414.88 592.2L423.68 601M414.88 601L423.68 592.2M431.45 580.8L440.25 589.6M431.45 589.6L440.25 580.8M448.02 538.6L456.82 547.4M448.02 547.4L456.82 538.6M464.59 595.7L473.39 604.5M464.59 604.5L473.39 595.7M481.16 565.9L489.96 574.7M481.16 574.7L489.96 565.9M497.73 576.1L506.53 584.9M497.73 584.9L506.53 576.1M514.3 582.3L523.1 591.1M514.3 591.1L523.1 582.3M530.87 577.1L539.67 585.9M530.87 585.9L539.67 577.1M547.44 577.4L556.24 586.2M547.44 586.2L556.24 577.4M564.02 587.7L572.82 596.5M564.02 596.5L572.82 587.7M580.59 604L589.39 612.8M580.59 612.8L589.39 604M597.16 562.8L605.96 571.6M597.16 571.6L605.96 562.8M613.73 574.5L622.53 583.3M613.73 583.3L622.53 574.5M630.3 577.4L639.1 586.2M630.3 586.2L639.1 577.4M646.87 546.2L655.67 555M646.87 555L655.67 546.2M663.44 564.6L672.24 573.4M663.44 573.4L672.24 564.6M680.01 575.7L688.81 584.5M680.01 584.5L688.81 575.7M696.58 570.4L705.38 579.2M696.58 579.2L705.38 570.4M713.15 562.4L721.95 571.2M713.15 571.2L721.95 562.4M729.73 562.9L738.52 571.7M729.73 571.7L738.52 562.9" stroke="#0000ff" stroke-width="1.15" fill="none"/>
<path d="M315.45 527.4L324.25 536.2M315.45 536.2L324.25 527.4M332.02 584.8L340.82 593.6M332.02 593.6L340.82 584.8M348.59 557.4L357.39 566.2M348.59 566.2L357.39 557.4M365.16 567.2L373.96 576M365.16 576L373.96 567.2M381.73 560.3L390.53 569.1M381.73 569.1L390.53 560.3M398.31 525.1L407.11 533.9M398.31 533.9L407.11 525.1M414.88 585.2L423.68 594M414.88 594L423.68 585.2M431.45 558.8L440.25 567.6M431.45 567.6L440.25 558.8M448.02 531.7L456.82 540.5M448.02 540.5L456.82 531.7M464.59 586.4L473.39 595.2M464.59 595.2L473.39 586.4M481.16 562.5L489.96 571.3M481.16 571.3L489.96 562.5M497.73 569.4L506.53 578.2M497.73 578.2L506.53 569.4M514.3 573.9L523.1 582.7M514.3 582.7L523.1 573.9M530.87 550L539.67 558.8M530.87 558.8L539.67 550M547.44 562.1L556.24 570.9M547.44 570.9L556.24 562.1M564.02 573.5L572.82 582.3M564.02 582.3L572.82 573.5M580.59 591.8L589.39 600.6M580.59 600.6L589.39 591.8M597.16 555.5L605.96 564.3M597.16 564.3L605.96 555.5M613.73 563.7L622.53 572.5M613.73 572.5L622.53 563.7M630.3 564.3L639.1 573.1M630.3 573.1L639.1 564.3M646.87 539.1L655.67 547.9M646.87 547.9L655.67 539.1M663.44 555.6L672.24 564.4M663.44 564.4L672.24 555.6M680.01 572L688.81 580.8M680.01 580.8L688.81 572M696.58 561.2L705.38 570M696.58 570L705.38 561.2M713.15 549.7L721.95 558.5M713.15 558.5L721.95 549.7M729.73 556.5L738.52 565.3M729.73 565.3L738.52 556.5" stroke="#00ff00" stroke-width="1.15" fill="none"/>
<path d="M315.45 513.8L324.25 522.6M315.45 522.6L324.25 513.8M332.02 579.2L340.82 588M332.02 588L340.82 579.2M348.59 542.3L357.39 551.1M348.59 551.1L357.39 542.3M365.16 562.5L373.96 571.3M365.16 571.3L373.96 562.5M381.73 554.4L390.53 563.2M381.73 563.2L390.53 554.4M398.31 503.5L407.11 512.3M398.31 512.3L407.11 503.5M414.88 579.3L423.68 588.1M414.88 588.1L423.68 579.3M431.45 545.4L440.25 554.2M431.45 554.2L440.25 545.4M448.02 522.2L456.82 531M448.02 531L456.82 522.2M464.59 573.9L473.39 582.7M464.59 582.7L473.39 573.9M481.16 557.4L489.96 566.2M481.16 566.2L489.96 557.4M497.73 562.5L506.53 571.3M497.73 571.3L506.53 562.5M514.3 563.2L523.1 572M514.3 572L523.1 563.2M530.87 527.1L539.67 535.9M530.87 535.9L539.67 527.1M547.44 553.3L556.24 562.1M547.44 562.1L556.24 553.3M564.02 563.2L572.82 572M564.02 572L572.82 563.2M580.59 583L589.39 591.8M580.59 591.8L589.39 583M597.16 551.2L605.96 560M597.16 560L605.96 551.2M613.73 547.1L622.53 555.9M613.73 555.9L622.53 547.1M630.3 558.4L639.1 567.2M630.3 567.2L639.1 558.4M646.87 532.1L655.67 540.9M646.87 540.9L655.67 532.1M663.44 545.5L672.24 554.3M663.44 554.3L672.24 545.5M680.01 562.8L688.81 571.6M680.01 571.6L688.81 562.8M696.58 554.9L705.38 563.7M696.58 563.7L705.38 554.9M713.15 509L721.95 517.8M713.15 517.8L721.95 509M729.73 548.6L738.52 557.4M729.73 557.4L738.52 548.6" stroke="#ffa500" stroke-width="1.15" fill="none"/>
<path d="M315.45 491.8L324.25 500.6M315.45 500.6L324.25 491.8M332.02 575.3L340.82 584.1M332.02 584.1L340.82 575.3M348.59 525.4L357.39 534.2M348.59 534.2L357.39 525.4M365.16 558.1L373.96 566.9M365.16 566.9L373.96 558.1M381.73 553.3L390.53 562.1M381.73 562.1L390.53 553.3M398.31 451.3L407.11 460.1M398.31 460.1L407.11 451.3M414.88 566.9L423.68 575.7M414.88 575.7L423.68 566.9M431.45 511.2L440.25 520M431.45 520L440.25 511.2M448.02 502L456.82 510.8M448.02 510.8L456.82 502M464.59 557.8L473.39 566.6M464.59 566.6L473.39 557.8M481.16 552.2L489.96 561M481.16 561L489.96 552.2M497.73 553.4L506.53 562.2M497.73 562.2L506.53 553.4M514.3 551.2L523.1 560M514.3 560L523.1 551.2M530.87 490.8L539.67 499.6M530.87 499.6L539.67 490.8M547.44 545.9L556.24 554.7M547.44 554.7L556.24 545.9M564.02 543.9L572.82 552.7M564.02 552.7L572.82 543.9M580.59 570.3L589.39 579.1M580.59 579.1L589.39 570.3M597.16 541.3L605.96 550.1M597.16 550.1L605.96 541.3M613.73 535L622.53 543.8M613.73 543.8L622.53 535M630.3 545.5L639.1 554.3M630.3 554.3L639.1 545.5M646.87 518.1L655.67 526.9M646.87 526.9L655.67 518.1M663.44 542.8L672.24 551.6M663.44 551.6L672.24 542.8M680.01 553.3L688.81 562.1M680.01 562.1L688.81 553.3M696.58 543.4L705.38 552.2M696.58 552.2L705.38 543.4M713.15 487.8L721.95 496.6M713.15 496.6L721.95 487.8M729.73 531.4L738.52 540.2M729.73 540.2L738.52 531.4" stroke="#ff0000" stroke-width="1.15" fill="none"/>
<rect x="303.35" y="388.9" width="447.3" height="248.6" fill="none" stroke="#000" stroke-width="1.35"/>
<text transform="translate(329.15 645.55) rotate(-90) scale(0.92 1)" font-size="12.5" text-anchor="end" fill="#0000ff">ALAs</text>
<text transform="translate(344.32 645.4) rotate(-90) scale(0.92 1)" font-size="11.3" text-anchor="end" fill="#ff0000">CGIs*</text>
<text transform="translate(360.89 645.4) rotate(-90) scale(0.92 1)" font-size="11.3" text-anchor="end" fill="#ff0000">WNAs*</text>
<text transform="translate(377.46 645.4) rotate(-90) scale(0.92 1)" font-size="11.3" text-anchor="end" fill="#ff0000">CNAs*</text>
<text transform="translate(394.03 645.4) rotate(-90) scale(0.92 1)" font-size="11.3" text-anchor="end" fill="#ff0000">ENAs*</text>
<text transform="translate(412.01 645.55) rotate(-90) scale(0.92 1)" font-size="12.5" text-anchor="end" fill="#0000ff">CAMs</text>
<text transform="translate(427.18 645.4) rotate(-90) scale(0.92 1)" font-size="11.3" text-anchor="end" fill="#ff0000">AMZs*</text>
<text transform="translate(443.75 645.4) rotate(-90) scale(0.92 1)" font-size="11.3" text-anchor="end" fill="#ff0000">NEBs*</text>
<text transform="translate(461.72 645.55) rotate(-90) scale(0.92 1)" font-size="12.5" text-anchor="end" fill="#0000ff">WSAs</text>
<text transform="translate(476.89 645.4) rotate(-90) scale(0.92 1)" font-size="11.3" text-anchor="end" fill="#ff0000">SSAs*</text>
<text transform="translate(494.86 645.55) rotate(-90) scale(0.92 1)" font-size="12.5" text-anchor="end" fill="#0000ff">NEUs</text>
<text transform="translate(510.03 645.4) rotate(-90) scale(0.92 1)" font-size="11.3" text-anchor="end" fill="#ff0000">CEUs*</text>
<text transform="translate(526.6 645.4) rotate(-90) scale(0.92 1)" font-size="11.3" text-anchor="end" fill="#ff0000">MEDs*</text>
<text transform="translate(543.17 645.4) rotate(-90) scale(0.92 1)" font-size="11.3" text-anchor="end" fill="#ff0000">SAHs*</text>
<text transform="translate(561.14 645.55) rotate(-90) scale(0.92 1)" font-size="12.5" text-anchor="end" fill="#0000ff">WAFs</text>
<text transform="translate(577.72 645.55) rotate(-90) scale(0.92 1)" font-size="12.5" text-anchor="end" fill="#0000ff">EAFs</text>
<text transform="translate(592.89 645.4) rotate(-90) scale(0.92 1)" font-size="11.3" text-anchor="end" fill="#ff0000">SAFs*</text>
<text transform="translate(610.86 645.55) rotate(-90) scale(0.92 1)" font-size="12.5" text-anchor="end" fill="#0000ff">NASs</text>
<text transform="translate(626.03 645.4) rotate(-90) scale(0.92 1)" font-size="11.3" text-anchor="end" fill="#ff0000">WASs*</text>
<text transform="translate(642.6 645.4) rotate(-90) scale(0.92 1)" font-size="11.3" text-anchor="end" fill="#ff0000">CASs*</text>
<text transform="translate(659.17 645.4) rotate(-90) scale(0.92 1)" font-size="11.3" text-anchor="end" fill="#ff0000">TIBs*</text>
<text transform="translate(675.74 645.4) rotate(-90) scale(0.92 1)" font-size="11.3" text-anchor="end" fill="#ff0000">EASs*</text>
<text transform="translate(692.31 645.4) rotate(-90) scale(0.92 1)" font-size="11.3" text-anchor="end" fill="#ff0000">SASs*</text>
<text transform="translate(710.28 645.55) rotate(-90) scale(0.92 1)" font-size="12.5" text-anchor="end" fill="#0000ff">SEAs</text>
<text transform="translate(725.45 645.4) rotate(-90) scale(0.92 1)" font-size="11.3" text-anchor="end" fill="#ff0000">NAUs*</text>
<text transform="translate(743.42 645.55) rotate(-90) scale(0.92 1)" font-size="12.5" text-anchor="end" fill="#0000ff">SAUs</text>
</g>
<g filter="url(#g)">
<text x="527" y="704.4" font-size="25.6" text-anchor="middle" fill="#000">bias, Precipitation (%), ANN</text>
<line x1="303.1" y1="916.55" x2="750.65" y2="916.55" stroke="#7a7a7a" stroke-width="1" stroke-dasharray="12.65 6.35"/>
<line x1="303.35" y1="730.1" x2="318.65" y2="730.1" stroke="#000" stroke-width="1.3"/>
<text transform="translate(295.3 734.1) scale(0.93 1)" font-size="11.8" text-anchor="end" fill="#000" stroke="#000" stroke-width="0.4">300</text>
<line x1="303.35" y1="742.53" x2="310.85" y2="742.53" stroke="#000" stroke-width="1"/>
<line x1="303.35" y1="754.96" x2="310.85" y2="754.96" stroke="#000" stroke-width="1"/>
<line x1="303.35" y1="767.39" x2="310.85" y2="767.39" stroke="#000" stroke-width="1"/>
<line x1="303.35" y1="779.82" x2="310.85" y2="779.82" stroke="#000" stroke-width="1"/>
<line x1="303.35" y1="792.25" x2="318.65" y2="792.25" stroke="#000" stroke-width="1.3"/>
<text transform="translate(295.3 796.25) scale(0.93 1)" font-size="11.8" text-anchor="end" fill="#000" stroke="#000" stroke-width="0.4">200</text>
<line x1="303.35" y1="804.68" x2="310.85" y2="804.68" stroke="#000" stroke-width="1"/>
<line x1="303.35" y1="817.11" x2="310.85" y2="817.11" stroke="#000" stroke-width="1"/>
<line x1="303.35" y1="829.54" x2="310.85" y2="829.54" stroke="#000" stroke-width="1"/>
<line x1="303.35" y1="841.97" x2="310.85" y2="841.97" stroke="#000" stroke-width="1"/>
<line x1="303.35" y1="854.4" x2="318.65" y2="854.4" stroke="#000" stroke-width="1.3"/>
<text transform="translate(295.3 858.4) scale(0.93 1)" font-size="11.8" text-anchor="end" fill="#000" stroke="#000" stroke-width="0.4">100</text>
<line x1="303.35" y1="866.83" x2="310.85" y2="866.83" stroke="#000" stroke-width="1"/>
<line x1="303.35" y1="879.26" x2="310.85" y2="879.26" stroke="#000" stroke-width="1"/>
<line x1="303.35" y1="891.69" x2="310.85" y2="891.69" stroke="#000" stroke-width="1"/>
<line x1="303.35" y1="904.12" x2="310.85" y2="904.12" stroke="#000" stroke-width="1"/>
<line x1="303.35" y1="916.55" x2="318.65" y2="916.55" stroke="#000" stroke-width="1.3"/>
<text transform="translate(295.3 920.55) scale(0.93 1)" font-size="11.8" text-anchor="end" fill="#000" stroke="#000" stroke-width="0.4">0</text>
<line x1="303.35" y1="928.98" x2="310.85" y2="928.98" stroke="#000" stroke-width="1"/>
<line x1="303.35" y1="941.41" x2="310.85" y2="941.41" stroke="#000" stroke-width="1"/>
<line x1="303.35" y1="953.84" x2="310.85" y2="953.84" stroke="#000" stroke-width="1"/>
<line x1="303.35" y1="966.27" x2="310.85" y2="966.27" stroke="#000" stroke-width="1"/>
<line x1="303.35" y1="978.7" x2="318.65" y2="978.7" stroke="#000" stroke-width="1.3"/>
<text transform="translate(295.3 982.7) scale(0.93 1)" font-size="11.8" text-anchor="end" fill="#000" stroke="#000" stroke-width="0.4">-100</text>
<line x1="319.85" y1="970.1" x2="319.85" y2="978.7" stroke="#000" stroke-width="1"/>
<path d="M319.85 827.4V847.2M319.85 869.4V877.3" stroke="#222" stroke-width="1" fill="none"/>
<path d="M318.65 827.4H321.05M318.65 877.3H321.05" stroke="#222" stroke-width="1.1" fill="none"/>
<path d="M316.55 847.2H323.15V869.4H316.55ZM316.55 862.3H323.15" stroke="#000" stroke-width="0.85" fill="none"/>
<line x1="336.42" y1="970.1" x2="336.42" y2="978.7" stroke="#000" stroke-width="1"/>
<path d="M336.42 923.3V933.3M336.42 940.6V945" stroke="#222" stroke-width="1" fill="none"/>
<path d="M335.22 923.3H337.62M335.22 945H337.62" stroke="#222" stroke-width="1.1" fill="none"/>
<path d="M333.12 933.3H339.72V940.6H333.12ZM333.12 937H339.72" stroke="#000" stroke-width="0.85" fill="none"/>
<line x1="352.99" y1="970.1" x2="352.99" y2="978.7" stroke="#000" stroke-width="1"/>
<path d="M352.99 849.3V871.5M352.99 890.5V901.8" stroke="#222" stroke-width="1" fill="none"/>
<path d="M351.79 849.3H354.19M351.79 901.8H354.19" stroke="#222" stroke-width="1.1" fill="none"/>
<path d="M349.69 871.5H356.29V890.5H349.69ZM349.69 882.4H356.29" stroke="#000" stroke-width="0.85" fill="none"/>
<line x1="369.56" y1="970.1" x2="369.56" y2="978.7" stroke="#000" stroke-width="1"/>
<path d="M369.56 899.1V903.7M369.56 914.2V926.7" stroke="#222" stroke-width="1" fill="none"/>
<path d="M368.36 899.1H370.76M368.36 926.7H370.76" stroke="#222" stroke-width="1.1" fill="none"/>
<path d="M366.26 903.7H372.86V914.2H366.26ZM366.26 909.5H372.86" stroke="#000" stroke-width="0.85" fill="none"/>
<line x1="386.13" y1="970.1" x2="386.13" y2="978.7" stroke="#000" stroke-width="1"/>
<path d="M386.13 898.5V902.5M386.13 915V920.4" stroke="#222" stroke-width="1" fill="none"/>
<path d="M384.93 898.5H387.33M384.93 920.4H387.33" stroke="#222" stroke-width="1.1" fill="none"/>
<path d="M382.83 902.5H389.43V915H382.83ZM382.83 909H389.43" stroke="#000" stroke-width="0.85" fill="none"/>
<line x1="402.71" y1="970.1" x2="402.71" y2="978.7" stroke="#000" stroke-width="1"/>
<path d="M402.71 787.7V829.4M402.71 871V896.6" stroke="#222" stroke-width="1" fill="none"/>
<path d="M401.51 787.7H403.91M401.51 896.6H403.91" stroke="#222" stroke-width="1.1" fill="none"/>
<path d="M399.41 829.4H406.01V871H399.41ZM399.41 846H406.01" stroke="#000" stroke-width="0.85" fill="none"/>
<line x1="419.28" y1="970.1" x2="419.28" y2="978.7" stroke="#000" stroke-width="1"/>
<path d="M419.28 909.8V921.5M419.28 931.5V942.8" stroke="#222" stroke-width="1" fill="none"/>
<path d="M418.08 909.8H420.48M418.08 942.8H420.48" stroke="#222" stroke-width="1.1" fill="none"/>
<path d="M415.98 921.5H422.58V931.5H415.98ZM415.98 927.1H422.58" stroke="#000" stroke-width="0.85" fill="none"/>
<line x1="435.85" y1="970.1" x2="435.85" y2="978.7" stroke="#000" stroke-width="1"/>
<path d="M435.85 893.3V905.4M435.85 919.1V939.1" stroke="#222" stroke-width="1" fill="none"/>
<path d="M434.65 893.3H437.05M434.65 939.1H437.05" stroke="#222" stroke-width="1.1" fill="none"/>
<path d="M432.55 905.4H439.15V919.1H432.55ZM432.55 913.5H439.15" stroke="#000" stroke-width="0.85" fill="none"/>
<line x1="452.42" y1="970.1" x2="452.42" y2="978.7" stroke="#000" stroke-width="1"/>
<path d="M452.42 842.5V863.4M452.42 881.3V905" stroke="#222" stroke-width="1" fill="none"/>
<path d="M451.22 842.5H453.62M451.22 905H453.62" stroke="#222" stroke-width="1.1" fill="none"/>
<path d="M449.12 863.4H455.72V881.3H449.12ZM449.12 874H455.72" stroke="#000" stroke-width="0.85" fill="none"/>
<line x1="468.99" y1="970.1" x2="468.99" y2="978.7" stroke="#000" stroke-width="1"/>
<path d="M468.99 892.7V909.5M468.99 919.1V941.3" stroke="#222" stroke-width="1" fill="none"/>
<path d="M467.79 892.7H470.19M467.79 941.3H470.19" stroke="#222" stroke-width="1.1" fill="none"/>
<path d="M465.69 909.5H472.29V919.1H465.69ZM465.69 915H472.29" stroke="#000" stroke-width="0.85" fill="none"/>
<line x1="485.56" y1="970.1" x2="485.56" y2="978.7" stroke="#000" stroke-width="1"/>
<path d="M485.56 894.5V900.6M485.56 910.6V915.7" stroke="#222" stroke-width="1" fill="none"/>
<path d="M484.36 894.5H486.76M484.36 915.7H486.76" stroke="#222" stroke-width="1.1" fill="none"/>
<path d="M482.26 900.6H488.86V910.6H482.26ZM482.26 906H488.86" stroke="#000" stroke-width="0.85" fill="none"/>
<line x1="502.13" y1="970.1" x2="502.13" y2="978.7" stroke="#000" stroke-width="1"/>
<path d="M502.13 893.5V897.7M502.13 911.3V918.3" stroke="#222" stroke-width="1" fill="none"/>
<path d="M500.93 893.5H503.33M500.93 918.3H503.33" stroke="#222" stroke-width="1.1" fill="none"/>
<path d="M498.83 897.7H505.43V911.3H498.83ZM498.83 906.2H505.43" stroke="#000" stroke-width="0.85" fill="none"/>
<line x1="518.7" y1="970.1" x2="518.7" y2="978.7" stroke="#000" stroke-width="1"/>
<path d="M518.7 895V901.8M518.7 917.6V925.2" stroke="#222" stroke-width="1" fill="none"/>
<path d="M517.5 895H519.9M517.5 925.2H519.9" stroke="#222" stroke-width="1.1" fill="none"/>
<path d="M515.4 901.8H522V917.6H515.4ZM515.4 910.6H522" stroke="#000" stroke-width="0.85" fill="none"/>
<line x1="535.27" y1="970.1" x2="535.27" y2="978.7" stroke="#000" stroke-width="1"/>
<path d="M535.27 873.5V901.3M535.27 938.4V949.4" stroke="#222" stroke-width="1" fill="none"/>
<path d="M534.07 873.5H536.47M534.07 949.4H536.47" stroke="#222" stroke-width="1.1" fill="none"/>
<path d="M531.97 901.3H538.57V938.4H531.97ZM531.97 916.6H538.57" stroke="#000" stroke-width="0.85" fill="none"/>
<line x1="551.84" y1="970.1" x2="551.84" y2="978.7" stroke="#000" stroke-width="1"/>
<path d="M551.84 886.4V895.5M551.84 915.4V929.6" stroke="#222" stroke-width="1" fill="none"/>
<path d="M550.64 886.4H553.04M550.64 929.6H553.04" stroke="#222" stroke-width="1.1" fill="none"/>
<path d="M548.54 895.5H555.14V915.4H548.54ZM548.54 909H555.14" stroke="#000" stroke-width="0.85" fill="none"/>
<line x1="568.42" y1="970.1" x2="568.42" y2="978.7" stroke="#000" stroke-width="1"/>
<path d="M568.42 875.4V890.3M568.42 919.1V929.3" stroke="#222" stroke-width="1" fill="none"/>
<path d="M567.22 875.4H569.62M567.22 929.3H569.62" stroke="#222" stroke-width="1.1" fill="none"/>
<path d="M565.12 890.3H571.72V919.1H565.12ZM565.12 905.4H571.72" stroke="#000" stroke-width="0.85" fill="none"/>
<line x1="584.99" y1="970.1" x2="584.99" y2="978.7" stroke="#000" stroke-width="1"/>
<path d="M584.99 905.4V916.4M584.99 933.6V948.4" stroke="#222" stroke-width="1" fill="none"/>
<path d="M583.79 905.4H586.19M583.79 948.4H586.19" stroke="#222" stroke-width="1.1" fill="none"/>
<path d="M581.69 916.4H588.29V933.6H581.69ZM581.69 926H588.29" stroke="#000" stroke-width="0.85" fill="none"/>
<line x1="601.56" y1="970.1" x2="601.56" y2="978.7" stroke="#000" stroke-width="1"/>
<path d="M601.56 892V896.6M601.56 905.4V916.4" stroke="#222" stroke-width="1" fill="none"/>
<path d="M600.36 892H602.76M600.36 916.4H602.76" stroke="#222" stroke-width="1.1" fill="none"/>
<path d="M598.26 896.6H604.86V905.4H598.26ZM598.26 901H604.86" stroke="#000" stroke-width="0.85" fill="none"/>
<line x1="618.13" y1="970.1" x2="618.13" y2="978.7" stroke="#000" stroke-width="1"/>
<path d="M618.13 872.5V902.2M618.13 922.3V938.1" stroke="#222" stroke-width="1" fill="none"/>
<path d="M616.93 872.5H619.33M616.93 938.1H619.33" stroke="#222" stroke-width="1.1" fill="none"/>
<path d="M614.83 902.2H621.43V922.3H614.83ZM614.83 911H621.43" stroke="#000" stroke-width="0.85" fill="none"/>
<line x1="634.7" y1="970.1" x2="634.7" y2="978.7" stroke="#000" stroke-width="1"/>
<path d="M634.7 865.2V886.5M634.7 920.4V938.1" stroke="#222" stroke-width="1" fill="none"/>
<path d="M633.5 865.2H635.9M633.5 938.1H635.9" stroke="#222" stroke-width="1.1" fill="none"/>
<path d="M631.4 886.5H638V920.4H631.4ZM631.4 908.7H638" stroke="#000" stroke-width="0.85" fill="none"/>
<line x1="651.27" y1="970.1" x2="651.27" y2="978.7" stroke="#000" stroke-width="1"/>
<path d="M651.27 791.9V843.5M651.27 872.5V893.3" stroke="#222" stroke-width="1" fill="none"/>
<path d="M650.07 791.9H652.47M650.07 893.3H652.47" stroke="#222" stroke-width="1.1" fill="none"/>
<path d="M647.97 843.5H654.57V872.5H647.97ZM647.97 854H654.57" stroke="#000" stroke-width="0.85" fill="none"/>
<line x1="667.84" y1="970.1" x2="667.84" y2="978.7" stroke="#000" stroke-width="1"/>
<path d="M667.84 879.6V889.5M667.84 898.4V916.4" stroke="#222" stroke-width="1" fill="none"/>
<path d="M666.64 879.6H669.04M666.64 916.4H669.04" stroke="#222" stroke-width="1.1" fill="none"/>
<path d="M664.54 889.5H671.14V898.4H664.54ZM664.54 894.1H671.14" stroke="#000" stroke-width="0.85" fill="none"/>
<line x1="684.41" y1="970.1" x2="684.41" y2="978.7" stroke="#000" stroke-width="1"/>
<path d="M684.41 895.5V899.1M684.41 914.2V934.7" stroke="#222" stroke-width="1" fill="none"/>
<path d="M683.21 895.5H685.61M683.21 934.7H685.61" stroke="#222" stroke-width="1.1" fill="none"/>
<path d="M681.11 899.1H687.71V914.2H681.11ZM681.11 910.3H687.71" stroke="#000" stroke-width="0.85" fill="none"/>
<line x1="700.98" y1="970.1" x2="700.98" y2="978.7" stroke="#000" stroke-width="1"/>
<path d="M700.98 903V918.1M700.98 931.1V934.1" stroke="#222" stroke-width="1" fill="none"/>
<path d="M699.78 903H702.18M699.78 934.1H702.18" stroke="#222" stroke-width="1.1" fill="none"/>
<path d="M697.68 918.1H704.28V931.1H697.68ZM697.68 924H704.28" stroke="#000" stroke-width="0.85" fill="none"/>
<line x1="717.55" y1="970.1" x2="717.55" y2="978.7" stroke="#000" stroke-width="1"/>
<path d="M717.55 821.8V847.2M717.55 908.3V933.3" stroke="#222" stroke-width="1" fill="none"/>
<path d="M716.35 821.8H718.75M716.35 933.3H718.75" stroke="#222" stroke-width="1.1" fill="none"/>
<path d="M714.25 847.2H720.85V908.3H714.25ZM714.25 898.1H720.85" stroke="#000" stroke-width="0.85" fill="none"/>
<line x1="734.12" y1="970.1" x2="734.12" y2="978.7" stroke="#000" stroke-width="1"/>
<path d="M734.12 851.5V881.3M734.12 908.5V925" stroke="#222" stroke-width="1" fill="none"/>
<path d="M732.92 851.5H735.33M732.92 925H735.33" stroke="#222" stroke-width="1.1" fill="none"/>
<path d="M730.83 881.3H737.42V908.5H730.83ZM730.83 894.9H737.42" stroke="#000" stroke-width="0.85" fill="none"/>
<path d="M315.45 879.8L324.25 888.6M315.45 888.6L324.25 879.8M332.02 938.7L340.82 947.5M332.02 947.5L340.82 938.7M348.59 897.8L357.39 906.6M348.59 906.6L357.39 897.8M365.16 921L373.96 929.8M365.16 929.8L373.96 921M381.73 913L390.53 921.8M381.73 921.8L390.53 913M398.31 892.2L407.11 901M398.31 901L407.11 892.2M414.88 939.9L423.68 948.7M414.88 948.7L423.68 939.9M431.45 918.9L440.25 927.7M431.45 927.7L440.25 918.9M448.02 882.7L456.82 891.5M448.02 891.5L456.82 882.7M464.59 946.7L473.39 955.5M464.59 955.5L473.39 946.7M481.16 913.5L489.96 922.3M481.16 922.3L489.96 913.5M497.73 918.3L506.53 927.1M497.73 927.1L506.53 918.3M514.3 919.3L523.1 928.1M514.3 928.1L523.1 919.3M530.87 953L539.67 961.8M530.87 961.8L539.67 953M547.44 927.7L556.24 936.5M547.44 936.5L556.24 927.7M564.02 946.1L572.82 954.9M564.02 954.9L572.82 946.1M580.59 940.6L589.39 949.4M580.59 949.4L589.39 940.6M597.16 912.3L605.96 921.1M597.16 921.1L605.96 912.3M613.73 930.3L622.53 939.1M613.73 939.1L622.53 930.3M630.3 926.2L639.1 935M630.3 935L639.1 926.2M646.87 897.7L655.67 906.5M646.87 906.5L655.67 897.7M663.44 906.6L672.24 915.4M663.44 915.4L672.24 906.6M680.01 932.2L688.81 941M680.01 941L688.81 932.2M696.58 938.5L705.38 947.3M696.58 947.3L705.38 938.5M713.15 944L721.95 952.8M713.15 952.8L721.95 944M729.73 934L738.52 942.8M729.73 942.8L738.52 934" stroke="#a020f0" stroke-width="1.15" fill="none"/>
<path d="M315.45 862.1L324.25 870.9M315.45 870.9L324.25 862.1M332.02 934L340.82 942.8M332.02 942.8L340.82 934M348.59 893L357.39 901.8M348.59 901.8L357.39 893M365.16 914.2L373.96 923M365.16 923L373.96 914.2M381.73 907.6L390.53 916.4M381.73 916.4L390.53 907.6M398.31 869.1L407.11 877.9M398.31 877.9L407.11 869.1M414.88 927.1L423.68 935.9M414.88 935.9L423.68 927.1M431.45 905.4L440.25 914.2M431.45 914.2L440.25 905.4M448.02 872.5L456.82 881.3M448.02 881.3L456.82 872.5M464.59 921.1L473.39 929.9M464.59 929.9L473.39 921.1M481.16 905.9L489.96 914.7M481.16 914.7L489.96 905.9M497.73 908.4L506.53 917.2M497.73 917.2L506.53 908.4M514.3 916.1L523.1 924.9M514.3 924.9L523.1 916.1M530.87 935.7L539.67 944.5M530.87 944.5L539.67 935.7M547.44 917.1L556.24 925.9M547.44 925.9L556.24 917.1M564.02 920.8L572.82 929.6M564.02 929.6L572.82 920.8M580.59 923L589.39 931.8M580.59 931.8L589.39 923M597.16 900.6L605.96 909.4M597.16 909.4L605.96 900.6M613.73 921.5L622.53 930.3M613.73 930.3L622.53 921.5M630.3 913.5L639.1 922.3M630.3 922.3L639.1 913.5M646.87 877.6L655.67 886.4M646.87 886.4L655.67 877.6M663.44 901.8L672.24 910.6M663.44 910.6L672.24 901.8M680.01 913.5L688.81 922.3M680.01 922.3L688.81 913.5M696.58 916.5L705.38 925.3M696.58 925.3L705.38 916.5M713.15 906L721.95 914.8M713.15 914.8L721.95 906M729.73 902.6L738.52 911.4M729.73 911.4L738.52 902.6" stroke="#0000ff" stroke-width="1.15" fill="none"/>
<path d="M315.45 853.3L324.25 862.1M315.45 862.1L324.25 853.3M332.02 931.1L340.82 939.9M332.02 939.9L340.82 931.1M348.59 882.7L357.39 891.5M348.59 891.5L357.39 882.7M365.16 906.6L373.96 915.4M365.16 915.4L373.96 906.6M381.73 902.5L390.53 911.3M381.73 911.3L390.53 902.5M398.31 855.8L407.11 864.6M398.31 864.6L407.11 855.8M414.88 919.3L423.68 928.1M414.88 928.1L423.68 919.3M431.45 896.6L440.25 905.4M431.45 905.4L440.25 896.6M448.02 862.2L456.82 871M448.02 871L456.82 862.2M464.59 918.2L473.39 927M464.59 927L473.39 918.2M481.16 901.8L489.96 910.6M481.16 910.6L489.96 901.8M497.73 903.2L506.53 912M497.73 912L506.53 903.2M514.3 910.3L523.1 919.1M514.3 919.1L523.1 910.3M530.87 923L539.67 931.8M530.87 931.8L539.67 923M547.44 904.3L556.24 913.1M547.44 913.1L556.24 904.3M564.02 901.8L572.82 910.6M564.02 910.6L572.82 901.8M580.59 911L589.39 919.8M580.59 919.8L589.39 911M597.16 896.9L605.96 905.7M597.16 905.7L605.96 896.9M613.73 902.8L622.53 911.6M613.73 911.6L622.53 902.8M630.3 902.1L639.1 910.9M630.3 910.9L639.1 902.1M646.87 869.3L655.67 878.1M646.87 878.1L655.67 869.3M663.44 894.2L672.24 903M663.44 903L672.24 894.2M680.01 908.4L688.81 917.2M680.01 917.2L688.81 908.4M696.58 909.1L705.38 917.9M696.58 917.9L705.38 909.1M713.15 889.3L721.95 898.1M713.15 898.1L721.95 889.3M729.73 891.2L738.52 900M729.73 900L738.52 891.2" stroke="#00ff00" stroke-width="1.15" fill="none"/>
<path d="M315.45 843.8L324.25 852.6M315.45 852.6L324.25 843.8M332.02 926.7L340.82 935.5M332.02 935.5L340.82 926.7M348.59 875.4L357.39 884.2M348.59 884.2L357.39 875.4M365.16 902.4L373.96 911.2M365.16 911.2L373.96 902.4M381.73 898.1L390.53 906.9M381.73 906.9L390.53 898.1M398.31 821.1L407.11 829.9M398.31 829.9L407.11 821.1M414.88 913L423.68 921.8M414.88 921.8L423.68 913M431.45 884.2L440.25 893M431.45 893L440.25 884.2M448.02 851.2L456.82 860M448.02 860L456.82 851.2M464.59 910.6L473.39 919.4M464.59 919.4L473.39 910.6M481.16 897.4L489.96 906.2M481.16 906.2L489.96 897.4M497.73 898.1L506.53 906.9M497.73 906.9L506.53 898.1M514.3 894.4L523.1 903.2M514.3 903.2L523.1 894.4M530.87 898.8L539.67 907.6M530.87 907.6L539.67 898.8M547.44 893L556.24 901.8M547.44 901.8L556.24 893M564.02 893.3L572.82 902.1M564.02 902.1L572.82 893.3M580.59 896.6L589.39 905.4M580.59 905.4L589.39 896.6M597.16 892L605.96 900.8M597.16 900.8L605.96 892M613.73 886.4L622.53 895.2M613.73 895.2L622.53 886.4M630.3 888.3L639.1 897.1M630.3 897.1L639.1 888.3M646.87 852.1L655.67 860.9M646.87 860.9L655.67 852.1M663.44 884L672.24 892.8M663.44 892.8L672.24 884M680.01 899.9L688.81 908.7M680.01 908.7L688.81 899.9M696.58 901.7L705.38 910.5M696.58 910.5L705.38 901.7M713.15 855.1L721.95 863.9M713.15 863.9L721.95 855.1M729.73 880.3L738.52 889.1M729.73 889.1L738.52 880.3" stroke="#ffa500" stroke-width="1.15" fill="none"/>
<path d="M315.45 828L324.25 836.8M315.45 836.8L324.25 828M332.02 924.5L340.82 933.3M332.02 933.3L340.82 924.5M348.59 856.6L357.39 865.4M348.59 865.4L357.39 856.6M365.16 898.7L373.96 907.5M365.16 907.5L373.96 898.7M381.73 895.6L390.53 904.4M381.73 904.4L390.53 895.6M398.31 785.9L407.11 794.7M398.31 794.7L407.11 785.9M414.88 905.9L423.68 914.7M414.88 914.7L423.68 905.9M431.45 875.8L440.25 884.6M431.45 884.6L440.25 875.8M448.02 830.6L456.82 839.4M448.02 839.4L456.82 830.6M464.59 894.9L473.39 903.7M464.59 903.7L473.39 894.9M481.16 891.5L489.96 900.3M481.16 900.3L489.96 891.5M497.73 890.1L506.53 898.9M497.73 898.9L506.53 890.1M514.3 892.2L523.1 901M514.3 901L523.1 892.2M530.87 876.4L539.67 885.2M530.87 885.2L539.67 876.4M547.44 888.1L556.24 896.9M547.44 896.9L556.24 888.1M564.02 874.4L572.82 883.2M564.02 883.2L572.82 874.4M580.59 885.4L589.39 894.2M580.59 894.2L589.39 885.4M597.16 887.1L605.96 895.9M597.16 895.9L605.96 887.1M613.73 877.9L622.53 886.7M613.73 886.7L622.53 877.9M630.3 878.9L639.1 887.7M630.3 887.7L639.1 878.9M646.87 841.3L655.67 850.1M646.87 850.1L655.67 841.3M663.44 879.5L672.24 888.3M663.44 888.3L672.24 879.5M680.01 889.9L688.81 898.7M680.01 898.7L688.81 889.9M696.58 894.8L705.38 903.6M696.58 903.6L705.38 894.8M713.15 843.5L721.95 852.3M713.15 852.3L721.95 843.5M729.73 869.9L738.52 878.7M729.73 878.7L738.52 869.9" stroke="#ff0000" stroke-width="1.15" fill="none"/>
<rect x="303.35" y="730.1" width="447.3" height="248.6" fill="none" stroke="#000" stroke-width="1.35"/>
<text transform="translate(327.75 986.6) rotate(-90) scale(0.92 1)" font-size="11.3" text-anchor="end" fill="#ff0000">ALAs*</text>
<text transform="translate(344.32 986.6) rotate(-90) scale(0.92 1)" font-size="11.3" text-anchor="end" fill="#ff0000">CGIs*</text>
<text transform="translate(360.89 986.6) rotate(-90) scale(0.92 1)" font-size="11.3" text-anchor="end" fill="#ff0000">WNAs*</text>
<text transform="translate(377.46 986.6) rotate(-90) scale(0.92 1)" font-size="11.3" text-anchor="end" fill="#ff0000">CNAs*</text>
<text transform="translate(395.43 986.75) rotate(-90) scale(0.92 1)" font-size="12.5" text-anchor="end" fill="#0000ff">ENAs</text>
<text transform="translate(410.61 986.6) rotate(-90) scale(0.92 1)" font-size="11.3" text-anchor="end" fill="#ff0000">CAMs*</text>
<text transform="translate(427.18 986.6) rotate(-90) scale(0.92 1)" font-size="11.3" text-anchor="end" fill="#ff0000">AMZs*</text>
<text transform="translate(445.15 986.75) rotate(-90) scale(0.92 1)" font-size="12.5" text-anchor="end" fill="#0000ff">NEBs</text>
<text transform="translate(461.72 986.75) rotate(-90) scale(0.92 1)" font-size="12.5" text-anchor="end" fill="#0000ff">WSAs</text>
<text transform="translate(476.89 986.6) rotate(-90) scale(0.92 1)" font-size="11.3" text-anchor="end" fill="#ff0000">SSAs*</text>
<text transform="translate(493.46 986.6) rotate(-90) scale(0.92 1)" font-size="11.3" text-anchor="end" fill="#ff0000">NEUs*</text>
<text transform="translate(510.03 986.6) rotate(-90) scale(0.92 1)" font-size="11.3" text-anchor="end" fill="#ff0000">CEUs*</text>
<text transform="translate(526.6 986.6) rotate(-90) scale(0.92 1)" font-size="11.3" text-anchor="end" fill="#ff0000">MEDs*</text>
<text transform="translate(543.17 986.6) rotate(-90) scale(0.92 1)" font-size="11.3" text-anchor="end" fill="#ff0000">SAHs*</text>
<text transform="translate(559.74 986.6) rotate(-90) scale(0.92 1)" font-size="11.3" text-anchor="end" fill="#ff0000">WAFs*</text>
<text transform="translate(576.32 986.6) rotate(-90) scale(0.92 1)" font-size="11.3" text-anchor="end" fill="#ff0000">EAFs*</text>
<text transform="translate(592.89 986.6) rotate(-90) scale(0.92 1)" font-size="11.3" text-anchor="end" fill="#ff0000">SAFs*</text>
<text transform="translate(610.86 986.75) rotate(-90) scale(0.92 1)" font-size="12.5" text-anchor="end" fill="#0000ff">NASs</text>
<text transform="translate(626.03 986.6) rotate(-90) scale(0.92 1)" font-size="11.3" text-anchor="end" fill="#ff0000">WASs*</text>
<text transform="translate(642.6 986.6) rotate(-90) scale(0.92 1)" font-size="11.3" text-anchor="end" fill="#ff0000">CASs*</text>
<text transform="translate(659.17 986.6) rotate(-90) scale(0.92 1)" font-size="11.3" text-anchor="end" fill="#ff0000">TIBs*</text>
<text transform="translate(675.74 986.6) rotate(-90) scale(0.92 1)" font-size="11.3" text-anchor="end" fill="#ff0000">EASs*</text>
<text transform="translate(692.31 986.6) rotate(-90) scale(0.92 1)" font-size="11.3" text-anchor="end" fill="#ff0000">SASs*</text>
<text transform="translate(710.28 986.75) rotate(-90) scale(0.92 1)" font-size="12.5" text-anchor="end" fill="#0000ff">SEAs</text>
<text transform="translate(725.45 986.6) rotate(-90) scale(0.92 1)" font-size="11.3" text-anchor="end" fill="#ff0000">NAUs*</text>
<text transform="translate(742.02 986.6) rotate(-90) scale(0.92 1)" font-size="11.3" text-anchor="end" fill="#ff0000">SAUs*</text>
</g>
</svg></body></html>
